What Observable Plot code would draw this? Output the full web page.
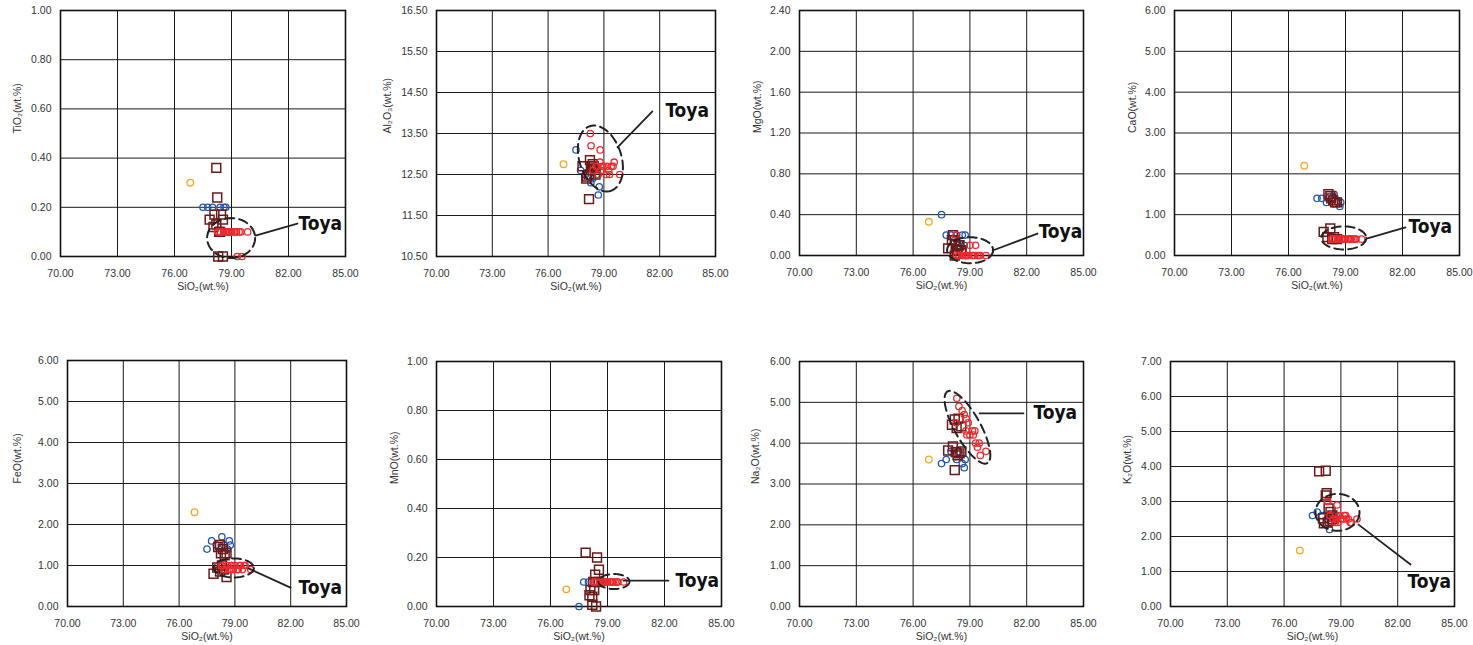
<!DOCTYPE html>
<html><head><meta charset="utf-8">
<script src="https://cdn.jsdelivr.net/npm/d3@7"></script>
<script src="https://cdn.jsdelivr.net/npm/@observablehq/plot@0.6"></script>
<style>
body{margin:0;background:#fff;width:1473px;height:645px;position:relative;overflow:hidden;}
.panel{position:absolute;}
.panel svg{overflow:visible;background:transparent;max-width:none;}
.panel svg text.toya{font-stretch:condensed;}
</style></head><body>
<script>
// ---------- data ----------
const xTicks = [70, 73, 76, 79, 82, 85];
const xLabel = "SiO₂(wt.%)";

// Toya (red circles)
const redSiO2  = [78.31,78.42,78.59,78.70,78.80,78.91,78.79,79.26,79.14,78.84,79.00,79.18,79.30,79.49,79.40,79.55,79.85,78.27];
const redTiO2  = [0.10,0.10,0.10,0.10,0.10,0.10,0.10,0.10,0.10,0.10,0.10,0.10,0.00,0.10,0.10,0.00,0.10,0.10];
const redAl2O3 = [13.2,12.6,12.7,12.5,13.1,12.7,12.8,12.6,12.5,12.6,12.7,12.7,12.5,12.7,12.7,12.8,12.5,13.5];
const redMgO   = [0.00,0.00,0.00,0.00,0.00,0.00,0.00,0.00,0.00,0.00,0.10,0.00,0.10,0.00,0.00,0.00,0.00,0.20];
const redCaO   = [0.40,0.40,0.40,0.40,0.40,0.40,0.40,0.40,0.40,0.40,0.40,0.40,0.40,0.40,0.40,0.40,0.40,0.40];
const redFeO   = [1.00,0.90,1.00,0.90,1.00,0.90,0.90,1.00,0.90,1.00,1.00,0.90,1.00,1.00,0.90,1.00,0.90,1.00];
const redMnO   = [0.10,0.10,0.10,0.10,0.10,0.10,0.10,0.10,0.10,0.10,0.10,0.10,0.10,0.10,0.10,0.10,0.10,0.10];
const redNa2O  = [5.1,4.9,4.8,4.7,4.6,4.5,4.3,4.3,4.3,4.2,4.2,4.2,4.0,4.0,3.9,3.7,3.8,4.5];
const redK2O   = [3.0,2.6,2.5,2.4,2.9,2.6,2.5,2.6,2.5,2.4,2.5,2.6,2.5,2.4,2.5,2.4,2.5,3.0];

// blue circles
const blueSiO2  = [77.50,77.75,78.00,78.30,78.40,78.60,78.70,78.75];
const blueTiO2  = [0.20,0.20,0.20,0.10,0.20,0.20,0.20,0.10];
const blueAl2O3 = [13.1,12.6,12.5,12.3,12.4,12.5,12.0,12.2];
const blueMgO   = [0.40,0.20,0.20,0.20,0.10,0.20,0.10,0.20];
const blueCaO   = [1.40,1.40,1.30,1.40,1.50,1.30,1.20,1.30];
const blueFeO   = [1.40,1.60,1.50,1.70,1.50,1.40,1.60,1.50];
const blueMnO   = [0.00,0.10,0.10,0.10,0.10,0.10,0.10,0.10];
const blueNa2O  = [3.5,3.6,3.8,3.6,3.8,3.5,3.4,3.6];
const blueK2O   = [2.6,2.7,2.6,2.5,2.2,2.55,2.5,2.6];

// brown squares
const brownSiO2  = [78.10,78.20,78.25,78.35,78.45,78.55,77.85,78.05,78.20,78.30,78.40,78.55];
const brownTiO2  = [0.17,0.36,0.24,0.10,0.17,0.15,0.15,0.12,0.13,0.00,0.10,0.00];
const brownAl2O3 = [12.45,11.9,12.85,12.7,12.7,12.5,12.7,12.4,12.5,12.6,12.75,12.65];
const brownMgO   = [0.20,0.15,0.10,0.05,0.10,0.05,0.07,0.15,0.00,0.02,0.10,0.05];
const brownCaO   = [1.50,1.45,1.40,1.35,1.30,1.30,0.58,0.45,0.66,0.40,0.45,0.40];
const brownFeO   = [1.45,1.50,1.30,1.40,1.25,1.30,0.80,0.95,0.85,1.00,0.90,0.72];
const brownMnO   = [0.067,0.04,0.10,0.13,0.20,0.15,0.22,0.046,0.007,0.067,0.00,0.10];
const brownNa2O  = [3.92,3.34,3.78,3.70,3.75,3.80,3.82,4.45,4.58,4.37,4.60,4.41];
const brownK2O   = [2.38,3.88,3.24,2.80,2.70,2.60,3.86,2.52,3.17,2.40,2.45,2.50];

// orange circle (single sample)
const orangeSiO2 = [76.83];
const orangeTiO2 = [0.30], orangeAl2O3 = [12.75], orangeMgO = [0.33], orangeCaO = [2.2];
const orangeFeO = [2.3], orangeMnO = [0.07], orangeNa2O = [3.6], orangeK2O = [1.6];

// y tick labels per panel
const tio2Ticks  = [0, 0.2, 0.4, 0.6, 0.8, 1.0];
const al2o3Ticks = [10.5, 11.5, 12.5, 13.5, 14.5, 15.5, 16.5];
const mgoTicks   = [0, 0.4, 0.8, 1.2, 1.6, 2.0, 2.4];
const caoTicks   = [0, 1, 2, 3, 4, 5, 6];
const feoTicks   = [0, 1, 2, 3, 4, 5, 6];
const mnoTicks   = [0, 0.2, 0.4, 0.6, 0.8, 1.0];
const na2oTicks  = [0, 1, 2, 3, 4, 5, 6];
const k2oTicks   = [0, 1, 2, 3, 4, 5, 6, 7];

// "Toya" annotations (data coords): ellipse centre, leader line, label
const toyaNotes = {
  TiO2:  {cx:78.98, cy:0.075, l:[80.26,0.085,82.47,0.134], t:[82.53,0.134]},
  Al2O3: {cx:78.81, cy:12.89, l:[79.73,13.16,81.61,14.04], t:[82.31,14.06]},
  MgO:   {cx:79.01, cy:0.052, l:[80.20,0.049,82.57,0.215], t:[82.63,0.235]},
  CaO:   {cx:78.91, cy:0.43,  l:[80.16,0.42,82.16,0.69],   t:[82.32,0.69]},
  FeO:   {cx:78.94, cy:0.94,  l:[79.73,0.93,81.99,0.46],   t:[82.42,0.46]},
  MnO:   {cx:79.34, cy:0.102, l:[79.84,0.106,82.21,0.106], t:[82.58,0.106]},
  Na2O:  {cx:78.87, cy:4.39,  l:[79.51,4.73,81.83,4.73],   t:[82.36,4.75]},
  K2O:   {cx:78.82, cy:2.69,  l:[79.93,2.34,82.68,1.20],   t:[82.52,0.71]}
};

// ---------- layout (pixels) ----------
const layout = [
  {key:"TiO2",  label:"TiO₂(wt.%)",  ticks:tio2Ticks,  f:[60,10,345,256],   ylab:43, ell:[24,20,0]},
  {key:"Al2O3", label:"Al₂O₃(wt.%)", ticks:al2o3Ticks, f:[436,10,715,256],  ylab:49, ell:[34,21,72]},
  {key:"MgO",   label:"MgO(wt.%)",   ticks:mgoTicks,   f:[799,10,1083,255], ylab:42, ell:[23,13,0]},
  {key:"CaO",   label:"CaO(wt.%)",   ticks:caoTicks,   f:[1174,10,1459,255],ylab:42, ell:[22.5,11.5,0]},
  {key:"FeO",   label:"FeO(wt.%)",   ticks:feoTicks,   f:[67,360,346,606],  ylab:50, ell:[20,9.5,0]},
  {key:"MnO",   label:"MnO(wt.%)",   ticks:mnoTicks,   f:[436,361,721,606], ylab:42, ell:[15.5,7.5,0]},
  {key:"Na2O",  label:"Na₂O(wt.%)",  ticks:na2oTicks,  f:[799,361,1083,606],ylab:44, ell:[41,13,61]},
  {key:"K2O",   label:"K₂O(wt.%)",   ticks:k2oTicks,   f:[1170,361,1454,606],ylab:43, ell:[22,18.5,0]}
];
const series = {
  TiO2:[redTiO2,blueTiO2,brownTiO2,orangeTiO2], Al2O3:[redAl2O3,blueAl2O3,brownAl2O3,orangeAl2O3],
  MgO:[redMgO,blueMgO,brownMgO,orangeMgO], CaO:[redCaO,blueCaO,brownCaO,orangeCaO],
  FeO:[redFeO,blueFeO,brownFeO,orangeFeO], MnO:[redMnO,blueMnO,brownMnO,orangeMnO],
  Na2O:[redNa2O,blueNa2O,brownNa2O,orangeNa2O], K2O:[redK2O,blueK2O,brownK2O,orangeK2O]
};
const zip = (xs, ys) => xs.map((x, i) => ({x, y: ys[i]}));
const fontNum = "'Liberation Sans', Arial, 'DejaVu Sans', sans-serif";
const fontToya = "'Liberation Sans Narrow', 'DejaVu Sans Condensed', 'Roboto', sans-serif";
const mL = 60, mR = 20, mT = 10, mB = 40;

for (const p of layout) {
  const [x0, y0, x1, y1] = p.f;
  const fw = x1 - x0, fh = y1 - y0;
  const ydom = [p.ticks[0], p.ticks[p.ticks.length - 1]];
  const [red, blue, brown, orange] = series[p.key];
  const n = toyaNotes[p.key];
  const kx = 15 / fw, ky = (ydom[1] - ydom[0]) / fh;
  const [rx, ry, ang] = p.ell;
  const a = ang * Math.PI / 180;
  const ellipse = d3.range(0, 73).map(i => {
    const t = i / 72 * 2 * Math.PI;
    const ex = rx * Math.cos(t), ey = ry * Math.sin(t);
    const px = ex * Math.cos(a) - ey * Math.sin(a);
    const py = ex * Math.sin(a) + ey * Math.cos(a);
    return {x: n.cx + px * kx, y: n.cy - py * ky};
  });
  const decimals = 2;
  const chart = Plot.plot({
    width: fw + mL + mR, height: fh + mT + mB,
    marginLeft: mL, marginRight: mR, marginTop: mT, marginBottom: mB,
    style: {fontSize: "10.5px", fontFamily: fontNum, color: "#333", background: "transparent", overflow: "visible"},
    x: {domain: [70, 85], ticks: xTicks, tickFormat: d => d.toFixed(decimals), tickSize: 0, tickPadding: 13, label: null},
    y: {domain: ydom, ticks: p.ticks, tickFormat: d => d.toFixed(decimals), tickSize: 0, tickPadding: 9, label: null},
    marks: [
      Plot.ruleX(xTicks, {stroke: "#1a1a1a", strokeWidth: 1}),
      Plot.ruleY(p.ticks, {stroke: "#1a1a1a", strokeWidth: 1}),
      Plot.frame({stroke: "#111", strokeWidth: 1.6}),
      Plot.dot(zip(orangeSiO2, orange), {x: "x", y: "y", r: 3.3, stroke: "#f5a623", strokeWidth: 1.3, fill: "none"}),
      Plot.dot(zip(blueSiO2, blue), {x: "x", y: "y", r: 3.2, stroke: "#2456b4", strokeWidth: 1.3, fill: "none"}),
      Plot.dot(zip(brownSiO2, brown), {x: "x", y: "y", symbol: "square", r: 5, stroke: "#6b1a1a", strokeWidth: 1.5, fill: "none"}),
      Plot.dot(zip(redSiO2, red), {x: "x", y: "y", r: 3.2, stroke: "#ee2a2f", strokeWidth: 1.3, fill: "none"}),
      Plot.line(ellipse, {x: "x", y: "y", stroke: "#222", strokeWidth: 2, strokeDasharray: "9,5", curve: "linear"}),
      Plot.line([{x: n.l[0], y: n.l[1]}, {x: n.l[2], y: n.l[3]}], {x: "x", y: "y", stroke: "#222", strokeWidth: 1.8}),
      Plot.text([{x: n.t[0], y: n.t[1], s: "Toya"}], {x: "x", y: "y", text: "s", textAnchor: "start", fontSize: 19, fontWeight: "bold", fontFamily: fontToya, fill: "#111", className: "toya"}),
      Plot.text([p.label], {frameAnchor: "left", rotate: -90, dx: -p.ylab, fontSize: 10.5, fill: "#333"}),
      Plot.text([xLabel], {frameAnchor: "bottom", dy: 33, fontSize: 10.5, fill: "#333"})
    ]
  });
  const div = document.createElement("div");
  div.className = "panel";
  div.style.left = (x0 - mL) + "px";
  div.style.top = (y0 - mT) + "px";
  div.style.width = (fw + mL + mR) + "px";
  div.appendChild(chart);
  document.body.appendChild(div);
}
</script>
</body></html>
